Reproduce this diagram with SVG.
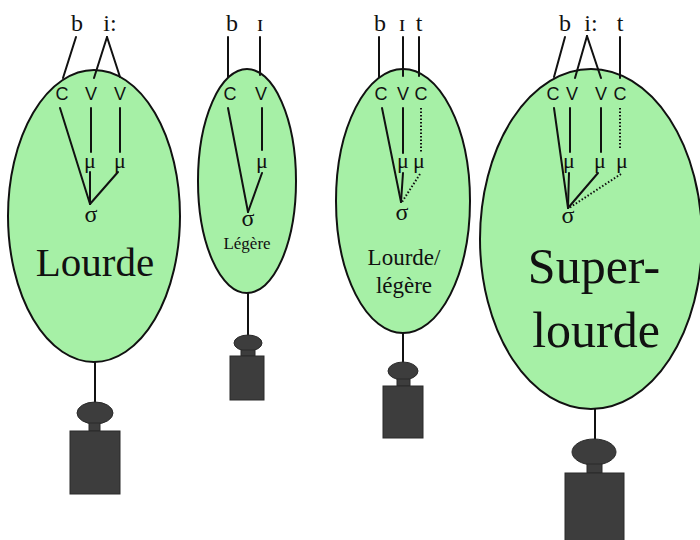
<svg xmlns="http://www.w3.org/2000/svg" width="700" height="540" viewBox="0 0 700 540">
<style>
.balloon{fill:#a6f0a6;stroke:#111;stroke-width:2}
.weight{fill:#3d3d3d;stroke:#2a2a2a;stroke-width:1}
.string{stroke:#111;stroke-width:2;fill:none}
.ln{stroke:#111;stroke-width:2;fill:none;stroke-linecap:round}
.dot{stroke:#111;stroke-width:2;fill:none;stroke-dasharray:1.5 2}
.ph{font-family:'Liberation Serif','Times New Roman',Tinos,'DejaVu Serif','Noto Serif',FreeSerif,serif;font-size:24px;fill:#111;text-anchor:middle}
.cv{font-family:'Liberation Sans',Arial,'DejaVu Sans',sans-serif;font-size:18px;fill:#111;text-anchor:middle}
.gr{font-family:'Liberation Serif','Times New Roman',Tinos,'DejaVu Serif','Noto Serif',FreeSerif,serif;font-size:22px;fill:#111;text-anchor:middle}
.lbl{font-family:'Liberation Serif','Times New Roman',Tinos,'DejaVu Serif','Noto Serif',FreeSerif,serif;fill:#111;text-anchor:middle}
</style>
<rect width="700" height="540" fill="#fff"/>

<!-- balloons -->
<g id="balloon-lourde">
  <line class="string" x1="95" y1="362" x2="95" y2="405"/>
  <ellipse class="weight" cx="95" cy="413" rx="18" ry="11"/>
  <rect class="weight" x="89" y="423" width="11" height="8"/>
  <rect class="weight" x="70" y="431" width="50" height="63"/>
  <ellipse class="balloon" cx="94" cy="216" rx="86" ry="146"/>
</g>
<g id="balloon-legere">
  <line class="string" x1="248" y1="292" x2="248" y2="338"/>
  <ellipse class="weight" cx="248" cy="343" rx="14" ry="8"/>
  <rect class="weight" x="241" y="350" width="14" height="6"/>
  <rect class="weight" x="230" y="356" width="34" height="44"/>
  <ellipse class="balloon" cx="247" cy="181" rx="49" ry="112"/>
</g>
<g id="balloon-lourde-legere">
  <line class="string" x1="403" y1="333" x2="403" y2="364"/>
  <ellipse class="weight" cx="403" cy="371" rx="15" ry="9"/>
  <rect class="weight" x="397" y="379" width="13" height="7"/>
  <rect class="weight" x="383" y="386" width="40" height="52"/>
  <ellipse class="balloon" cx="403" cy="201" rx="67" ry="132"/>
</g>
<g id="balloon-superlourde">
  <line class="string" x1="595" y1="408" x2="595" y2="441"/>
  <ellipse class="weight" cx="594" cy="452" rx="22" ry="13"/>
  <rect class="weight" x="587" y="464" width="15" height="9"/>
  <rect class="weight" x="565" y="473" width="59" height="70"/>
  <ellipse class="balloon" cx="591" cy="239" rx="111" ry="170"/>
</g>

<!-- connectors -->
<g id="connectors">
  <!-- beat : lourde -->
  <line class="ln" x1="76" y1="37" x2="63" y2="78"/>
  <line class="ln" x1="107" y1="37" x2="94" y2="78"/>
  <line class="ln" x1="107" y1="37" x2="120" y2="77"/>
  <line class="ln" x1="60" y1="108" x2="90" y2="204"/>
  <line class="ln" x1="91" y1="108" x2="91" y2="152"/>
  <line class="ln" x1="120" y1="108" x2="120" y2="152"/>
  <line class="ln" x1="90" y1="172" x2="90" y2="204"/>
  <line class="ln" x1="118" y1="172" x2="90" y2="204"/>
  <!-- bit : legere -->
  <line class="ln" x1="228" y1="37" x2="228" y2="77"/>
  <line class="ln" x1="260" y1="37" x2="260" y2="75"/>
  <line class="ln" x1="228" y1="108" x2="248" y2="212"/>
  <line class="ln" x1="262" y1="108" x2="262" y2="150"/>
  <line class="ln" x1="262" y1="173" x2="248" y2="212"/>
  <!-- bit : lourde/legere -->
  <line class="ln" x1="379" y1="37" x2="379" y2="77"/>
  <line class="ln" x1="403" y1="37" x2="403" y2="76"/>
  <line class="ln" x1="419" y1="37" x2="419" y2="76"/>
  <line class="ln" x1="382" y1="108" x2="401" y2="202"/>
  <line class="ln" x1="403" y1="108" x2="403" y2="153"/>
  <line class="dot" x1="421" y1="108" x2="421" y2="153"/>
  <line class="ln" x1="403" y1="173" x2="401" y2="202"/>
  <line class="dot" x1="420" y1="174" x2="402" y2="202"/>
  <!-- beat : superlourde -->
  <line class="ln" x1="565" y1="37" x2="554" y2="77"/>
  <line class="ln" x1="587" y1="36" x2="575" y2="78"/>
  <line class="ln" x1="587" y1="36" x2="601" y2="78"/>
  <line class="ln" x1="620" y1="37" x2="620" y2="78"/>
  <line class="ln" x1="554" y1="108" x2="568" y2="208"/>
  <line class="ln" x1="570" y1="108" x2="570" y2="152"/>
  <line class="ln" x1="601" y1="108" x2="601" y2="152"/>
  <line class="dot" x1="620" y1="108" x2="620" y2="149"/>
  <line class="ln" x1="569" y1="173" x2="568" y2="208"/>
  <line class="ln" x1="598" y1="173" x2="568" y2="208"/>
  <line class="dot" x1="621" y1="174" x2="569" y2="208"/>
</g>

<!-- labels -->
<g id="labels-lourde">
  <text class="ph" x="77" y="31">b</text>
  <text class="ph" x="110" y="31">i:</text>
  <text class="cv" x="62" y="100">C</text>
  <text class="cv" x="91" y="100">V</text>
  <text class="cv" x="120" y="100">V</text>
  <text class="gr" x="90" y="168">μ</text>
  <text class="gr" x="120" y="168">μ</text>
  <text class="ph" x="91" y="222">σ</text>
  <text class="lbl" x="95" y="276" font-size="41">Lourde</text>
</g>
<g id="labels-legere">
  <text class="ph" x="232" y="31">b</text>
  <text class="ph" x="260" y="31">ɪ</text>
  <text class="cv" x="230" y="100">C</text>
  <text class="cv" x="261" y="100">V</text>
  <text class="gr" x="262" y="168">μ</text>
  <text class="ph" x="248" y="226">σ</text>
  <text class="lbl" x="247" y="249" font-size="17">Légère</text>
</g>
<g id="labels-lourde-legere">
  <text class="ph" x="380" y="31">b</text>
  <text class="ph" x="402" y="31">ɪ</text>
  <text class="ph" x="419" y="31">t</text>
  <text class="cv" x="381" y="100">C</text>
  <text class="cv" x="403" y="100">V</text>
  <text class="cv" x="421" y="100">C</text>
  <text class="gr" x="403" y="168">μ</text>
  <text class="gr" x="419" y="168">μ</text>
  <text class="ph" x="402" y="220">σ</text>
  <text class="lbl" x="404" y="265" font-size="23">Lourde/</text>
  <text class="lbl" x="404" y="293" font-size="23">légère</text>
</g>
<g id="labels-superlourde">
  <text class="ph" x="565" y="31">b</text>
  <text class="ph" x="591" y="31">i:</text>
  <text class="ph" x="620" y="31">t</text>
  <text class="cv" x="553" y="100">C</text>
  <text class="cv" x="572" y="100">V</text>
  <text class="cv" x="601" y="100">V</text>
  <text class="cv" x="620" y="100">C</text>
  <text class="gr" x="569" y="168">μ</text>
  <text class="gr" x="600" y="168">μ</text>
  <text class="gr" x="622" y="168">μ</text>
  <text class="ph" x="568" y="223">σ</text>
  <text class="lbl" x="594" y="283" font-size="50">Super-</text>
  <text class="lbl" x="596" y="347" font-size="50">lourde</text>
</g>
</svg>
